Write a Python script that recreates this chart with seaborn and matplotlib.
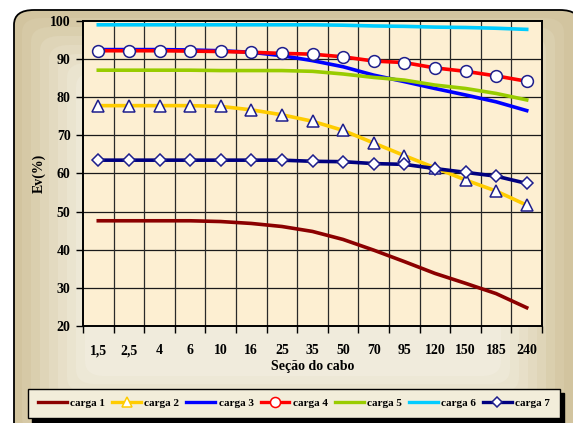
import matplotlib
matplotlib.use("Agg")
import matplotlib.pyplot as plt
from matplotlib.patches import FancyBboxPatch
from matplotlib.lines import Line2D
import numpy as np
import pandas as pd
import seaborn as sns

secoes = ["1,5", "2,5", "4", "6", "10", "16", "25", "35", "50", "70", "95", "120", "150", "185", "240"]

carga1 = [47.6, 47.6, 47.6, 47.6, 47.4, 46.9, 46.1, 44.8, 42.7, 39.9, 36.9, 33.8, 31.2, 28.5, 24.8]
carga2 = [77.8, 77.8, 77.8, 77.8, 77.6, 76.7, 75.4, 73.7, 71.3, 68.0, 64.7, 61.5, 58.3, 55.4, 51.7]
carga3 = [92.5, 92.5, 92.5, 92.4, 92.2, 91.8, 90.9, 89.6, 88.0, 85.8, 84.1, 82.3, 80.6, 78.8, 76.5]
carga4 = [92.2, 92.2, 92.2, 92.1, 92.0, 91.8, 91.5, 91.3, 90.6, 89.5, 89.1, 87.7, 86.8, 85.6, 84.2]
carga5 = [87.1, 87.1, 87.1, 87.1, 87.0, 87.0, 87.0, 86.8, 86.1, 85.2, 84.5, 83.2, 82.3, 81.0, 79.3]
carga6 = [99.0, 99.0, 99.0, 99.0, 99.0, 99.0, 99.0, 99.0, 98.9, 98.7, 98.6, 98.4, 98.3, 98.1, 97.8]
carga7 = [63.5, 63.5, 63.5, 63.5, 63.5, 63.5, 63.5, 63.2, 63.1, 62.6, 62.4, 61.3, 60.3, 59.3, 57.4]

nomes = ["carga 1", "carga 2", "carga 3", "carga 4", "carga 5", "carga 6", "carga 7"]
series = [carga1, carga2, carga3, carga4, carga5, carga6, carga7]

cores = ["#8B0000", "#FFCC00", "#0000FF", "#FF0000", "#99CC00", "#00CCFF", "#000080"]
marcadores = [None, "^", None, "o", None, None, "D"]
msizes = [0, 8, 0, 8.5, 0, 0, 6.5]
navy = "#1E1E8C"

df = pd.DataFrame({"secao": np.tile(np.arange(len(secoes)), len(nomes)),
                   "valor": np.concatenate(series),
                   "carga": np.repeat(nomes, len(secoes))})

plt.rcParams["font.family"] = ["Liberation Serif", "DejaVu Serif"]
plt.rcParams["font.weight"] = "bold"

fig = plt.figure(figsize=(5.73, 4.23), dpi=100)
fig.patch.set_facecolor("white")

W, H = 573.0, 423.0
def fr(x0, y0, x1, y1, **kw):
    # rounded rect in pixel coords (y from top)
    p = FancyBboxPatch((x0 / W, 1 - y1 / H), (x1 - x0) / W, (y1 - y0) / H,
                       boxstyle="round,pad=0,rounding_size=0.035",
                       transform=fig.transFigure, zorder=-10, **kw)
    fig.patches.append(p)

fr(14, 10, 580, 440, facecolor="#D2C49F", edgecolor="black", linewidth=1.3)
grad = ["#D6C9A6", "#DACFAE", "#DFD5B8", "#E3DAC0", "#E7DFC8", "#EAE4CF", "#EDE8D6", "#F0EBDC"]
for i, c in enumerate(grad):
    d = 8 + i * 9
    fr(14 + d, 10 + d, 572 - d, 440 - d * 0.9, facecolor=c, edgecolor="none")

ax = fig.add_axes([83 / W, 1 - 326 / H, (542 - 83) / W, (326 - 21) / H])
ax.set_facecolor("#FDEFD2")

for nome, cor, mk, ms in zip(nomes, cores, marcadores, msizes):
    sub = df[df.carga == nome]
    kw = {}
    if mk:
        kw = dict(marker=mk, markersize=ms, markerfacecolor="white",
                  markeredgecolor=navy, markeredgewidth=1.1)
    sns.lineplot(data=sub, x="secao", y="valor", ax=ax, color=cor,
                 linewidth=2.6, legend=False, **kw)

ax.set_xlim(-0.5, len(secoes) - 0.5)
ax.set_ylim(20, 100)
ax.set_yticks(np.arange(20, 101, 10))
ax.set_xticks(np.arange(len(secoes)))
ax.set_xticklabels(secoes)
ax.set_xticks(np.arange(len(secoes) + 1) - 0.5, minor=True)
ax.grid(False)
for v in np.arange(30, 100, 10):
    ax.axhline(v, color="#1a1a1a", linewidth=0.9, zorder=0.5)
for v in np.arange(len(secoes)) + 0.5:
    ax.axvline(v, color="#2a2a2a", linewidth=0.9, zorder=0.5)

ax.tick_params(axis="x", which="major", length=0, pad=13, labelsize=10)
ax.tick_params(axis="x", which="minor", length=5, width=1, direction="out")
ax.tick_params(axis="y", length=5, width=1, direction="out", labelsize=10, pad=4)
for lab in ax.get_xticklabels() + ax.get_yticklabels():
    lab.set_fontweight("bold")
for s in ax.spines.values():
    s.set_linewidth(1.4)
    s.set_color("black")

ax.set_xlabel("Seção do cabo", fontsize=10, fontweight="bold", labelpad=2)
ax.set_ylabel("Ev(%)", fontsize=10, fontweight="bold", labelpad=3)

handles = []
for nome, cor, mk, ms in zip(nomes, cores, marcadores, msizes):
    if mk:
        ec = navy if mk == "D" else cor
        h = Line2D([], [], color=cor, linewidth=2.4, marker=mk, markersize=ms * 0.85,
                   markerfacecolor="white", markeredgecolor=ec, markeredgewidth=1.1)
    else:
        h = Line2D([], [], color=cor, linewidth=2.4)
    handles.append(h)

leg = fig.legend(handles, nomes, loc="center", ncol=7,
                 bbox_to_anchor=(28 / W, 1 - 419 / H, 532 / W, 31 / H), mode="expand",
                 prop={"family": "Liberation Serif", "weight": "bold", "size": 8},
                 handlelength=2.6, handletextpad=0.3, columnspacing=0.4,
                 borderpad=0.9, borderaxespad=0, fancybox=False,
                 shadow={"ox": 3, "oy": -3, "color": "black", "alpha": 1})
leg.get_frame().set_facecolor("#F2EDDA")
leg.get_frame().set_edgecolor("black")
leg.get_frame().set_linewidth(1.0)
leg.get_frame().set_alpha(1)

fig.savefig("out.png", dpi=100)
